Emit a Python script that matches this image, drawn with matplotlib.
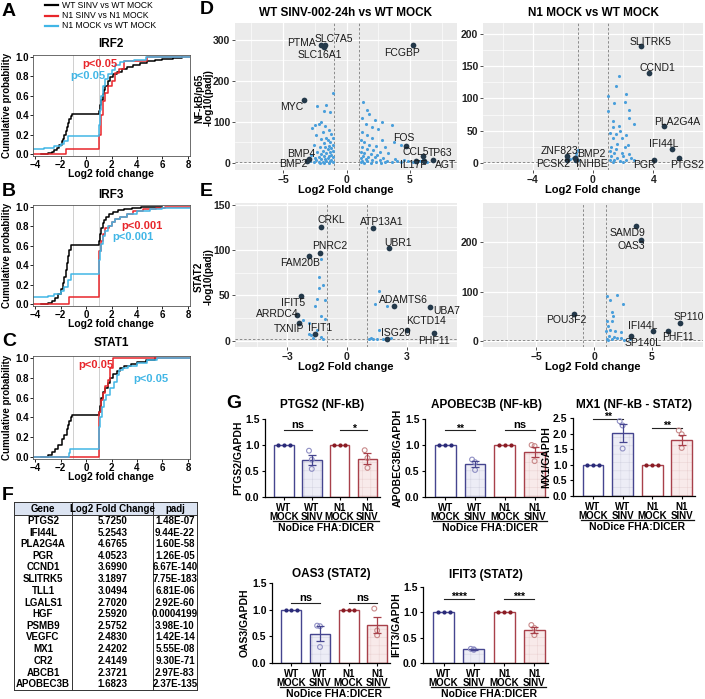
import matplotlib
matplotlib.use('Agg')
import matplotlib.pyplot as plt
from matplotlib.ticker import AutoMinorLocator
from matplotlib.lines import Line2D
import matplotlib.transforms as mtrans

W, H = 705, 699
plt.rcParams['font.family'] = ['Liberation Sans', 'DejaVu Sans']
plt.rcParams['hatch.linewidth'] = 0.4

# ---------------- DATA ----------------
# Panel A-C cumulative distributions (step breakpoints)
irf2_black_x = [-3.5,-3.0,-2.7,-2.5,-2.3,-2.1,-1.9,-1.8,-1.7,-1.6,-1.5,-1.4,-1.3,-1.2,-1.1,1.0,1.1,1.2,1.3,1.4,1.5,1.7,1.9,2.1,2.4,2.8,3.2,3.7,4.2,4.8,5.4,6.0,6.8,7.5]
irf2_black_y = [0,0.01,0.02,0.04,0.06,0.09,0.13,0.16,0.2,0.24,0.28,0.32,0.36,0.39,0.41,0.44,0.5,0.56,0.62,0.66,0.7,0.75,0.79,0.82,0.85,0.88,0.9,0.92,0.94,0.96,0.97,0.98,0.99,1.0]
irf2_red_x = [-4.2,-1.6,1.0,1.15,1.3,1.5,1.7,2.0,2.3,2.6,3.0,4.8,8.2]
irf2_red_y = [0,0.05,0.2,0.4,0.55,0.63,0.7,0.75,0.83,0.88,0.96,1.0,1.0]
irf2_cyan_x = [-4.2,-3.3,-2.5,-2.0,-1.7,-1.4,1.0,1.1,1.2,1.35,1.5,1.7,2.0,2.3,2.7,3.0,3.8,4.7,8.2]
irf2_cyan_y = [0.05,0.06,0.08,0.1,0.13,0.19,0.3,0.45,0.6,0.7,0.77,0.82,0.87,0.92,0.95,0.96,0.97,1.0,1.0]

irf3_black_x = [-3.5,-3.0,-2.7,-2.4,-2.2,-2.0,-1.8,-1.7,-1.6,-1.5,-1.4,-1.3,-1.2,1.0,1.1,1.2,1.3,1.4,1.6,1.8,2.1,2.5,3.0,3.6,4.3,5.0,6.0]
irf3_black_y = [0,0.01,0.03,0.06,0.1,0.15,0.22,0.28,0.35,0.42,0.5,0.56,0.61,0.65,0.72,0.78,0.83,0.87,0.9,0.93,0.95,0.97,0.98,0.99,0.995,1.0,1.0]
irf3_red_x = [-4.2,-1.3,1.0,1.05,1.2,1.35,1.5,1.8,2.0,2.3,2.7,3.2,3.7,4.5,5.5,6.2,8.2]
irf3_red_y = [0,0.07,0.3,0.55,0.65,0.72,0.78,0.8,0.85,0.88,0.9,0.93,0.96,0.98,0.99,1.0,1.0]
irf3_cyan_x = [-4.2,-3.0,-2.5,-2.0,-1.7,-1.4,-1.2,1.0,1.1,1.2,1.35,1.5,1.7,2.0,2.3,2.7,3.2,4.0,5.0,6.0,8.2]
irf3_cyan_y = [0.07,0.08,0.1,0.13,0.18,0.25,0.31,0.45,0.55,0.62,0.7,0.75,0.8,0.85,0.88,0.9,0.93,0.96,0.98,0.99,1.0]

stat1_black_x = [-3.5,-3.0,-2.7,-2.4,-2.2,-1.9,-1.7,-1.5,-1.4,-1.3,-1.2,-1.1,1.0,1.1,1.2,1.35,1.5,1.7,1.9,2.1,2.4,2.7,3.0,3.5,4.0,4.7,5.4]
stat1_black_y = [0,0.02,0.05,0.08,0.12,0.18,0.22,0.28,0.32,0.36,0.4,0.42,0.45,0.52,0.6,0.66,0.7,0.75,0.8,0.84,0.87,0.9,0.92,0.94,0.96,0.98,1.0]
stat1_red_x = [-4.2,1.0,1.05,1.2,1.35,1.5,1.7,1.9,2.1,8.2]
stat1_red_y = [0,0.3,0.45,0.58,0.65,0.72,0.78,0.9,1.0,1.0]
stat1_cyan_x = [-4.2,-1.35,-1.25,1.0,1.1,1.25,1.4,1.6,1.9,2.2,2.4,2.6,2.9,3.3,4.0,4.8,5.6,8.2]
stat1_cyan_y = [0,0.04,0.08,0.3,0.4,0.5,0.58,0.63,0.7,0.76,0.83,0.88,0.9,0.92,0.95,0.98,1.0,1.0]

# Panel D/E volcano: background (blue) points
dL_bx = [-1.1,-1.6,-1.8,-2.3,-1.3,-2.0,-2.5,-2.2,-1.7,-2.7,-1.4,-1.9,-1.2,-2.4,-1.6,-1.1,-2.0,-1.5,-1.3,-1.8,-2.6,-1.1,-1.4,-2.1,-1.7,-1.2,-1.5,-1.9,-2.3,-1.1,-1.3,-1.6,-2.0,-2.8,-1.2,-1.4,-1.8,-2.2,-2.5,-1.1,-1.5,-1.7,-2.0,-2.4,-2.9,-1.2,-1.3,-1.6,-1.9,-2.2,-2.6,-3.1,-1.1,-1.4,-1.8,-2.1,
         1.3,1.6,1.2,1.8,2.2,2.8,3.6,1.5,2.0,2.5,1.2,1.6,2.0,2.8,3.7,4.3,1.1,1.4,1.8,2.3,3.0,1.2,1.6,2.1,2.6,3.3,1.1,1.4,1.9,2.4,1.3,1.7,2.2,2.9,3.8,4.5,1.1,1.5,2.0,2.6,3.2,4.0,4.8,5.2,5.8,6.3,1.2,1.6,2.3,3.0,3.6,4.3,1.4,1.9,2.7,1.1,5.5,6.0]
dL_by = [170,142,127,138,125,100,92,95,90,85,80,75,70,68,62,60,58,55,50,48,45,45,42,40,38,36,33,30,28,30,26,24,22,20,20,18,16,15,12,14,12,10,9,8,6,8,5,4,3,3,2,2,2,1,1,1,
         148,130,110,120,105,100,92,95,88,83,75,68,62,55,52,45,55,50,45,42,40,38,35,32,28,25,28,25,22,20,18,15,14,12,10,8,12,10,8,7,6,5,4,3,4,3,5,4,3,2,2,2,1,1,1,3,8,10]
dR_bx = [1.7,1.5,1.0,2.2,1.4,2.1,1.0,2.4,1.3,1.7,2.4,2.7,1.3,1.8,1.1,1.5,2.2,1.3,1.9,1.6,2.3,1.2,1.5,2.1,1.1,1.4,1.9,2.4,1.2,1.6,2.0,2.5,1.1,1.4,1.8,2.2,2.7,1.3,2.0,
         -1.0,-1.1,-1.3,-1.5,-1.0,-1.2,-1.1]
dR_by = [135,120,104,107,93,95,80,82,65,58,70,60,55,50,47,45,43,38,38,30,28,25,22,24,18,15,15,14,10,8,10,8,5,4,3,5,4,2,2,
         20,15,8,6,5,3,10]
eL_bx = [-1.3,-1.4,-1.2,-1.4,-1.1,-1.5,-1.6,-1.3,-1.1,-1.9,-2.2,-1.5,-1.8,-1.3,-1.2,-1.7,-1.9,
         1.6,1.4,2.0,1.6,1.1,1.3,1.5,1.8,2.2,1.2]
eL_by = [90,70,62,58,45,46,38,27,24,20,23,12,6,4,2,3,7,
         55,40,38,12,2,2,2,2,3,3]
eR_bx = [1.1,2.0,1.4,2.5,1.5,1.6,1.5,1.1,1.2,1.8,1.0,1.4,2.3,1.3,1.7,2.0,2.3,1.1,1.5,2.6,3.1,1.2]
eR_by = [92,93,83,75,58,50,40,40,30,20,20,22,18,10,8,6,7,5,4,3,5,2]

# Volcano labelled genes
dL_genes = ["PTMA","SLC7A5","SLC16A1","FCGBP","MYC","BMP4","BMP2","FOS","CCL5","TP63","IL17F","AGT"]
dL_gx = [-2.0,-1.7,-1.8,5.2,-3.4,-3.0,-3.1,4.7,6.0,6.8,5.5,6.1]
dL_gy = [288,287,283,288,154,10,6,42,18,8,4,4]
dR_genes = ["SLITRK5","CCND1","PLA2G4A","IFI44L","PTGS2","PGR","ZNF823","PCSK2","BMP2","INHBE"]
dR_gx = [3.19,3.70,4.68,5.25,5.72,4.05,-1.7,-1.75,-1.2,-1.1]
dR_gy = [182,139,57,21,7,5,10,4,8,4]
eL_genes = ["CRKL","ATP13A1","PNRC2","UBR1","FAM20B","IFIT5","ARRDC4","TXNIP","IFIT1","ADAMTS6","UBA7","KCTD14","ISG20","PHF11"]
eL_gx = [-1.29,1.28,-1.34,2.08,-1.9,-2.28,-2.48,-2.38,-1.58,2.33,4.16,3.0,1.98,4.36]
eL_gy = [126,124,97,102,93,49,28,20,7,38,37,12,2,8]
eR_genes = ["SAMD9","OAS3","POU3F2","SP110","IFI44L","PHF11","SP140L"]
eR_gx = [3.63,4.06,-1.7,7.4,5.1,6.4,3.2]
eR_gy = [232,205,55,36,20,20,10]

# Table F
genes_F = ["PTGS2","IFI44L","PLA2G4A","PGR","CCND1","SLITRK5","TLL1","LGALS1","HGF","PSMB9","VEGFC","MX1","CR2","ABCB1","APOBEC3B"]
lfc_F = ["5.7250","5.2543","4.6765","4.0523","3.6990","3.1897","3.0494","2.7020","2.5920","2.5752","2.4830","2.4202","2.4149","2.3721","1.6823"]
padj_F = ["1.48E-07","9.44E-22","1.60E-58","1.26E-05","6.67E-140","7.75E-183","6.81E-06","2.92E-60","0.0004199","3.98E-10","1.42E-14","5.55E-08","9.30E-71","2.97E-83","2.37E-135"]

# Panel G bar charts
conds_G = ["WT\nMOCK", "WT\nSINV", "N1\nMOCK", "N1\nSINV"]
titles_G = ["PTGS2 (NF-kB)", "APOBEC3B (NF-kB)", "MX1 (NF-kB - STAT2)", "OAS3 (STAT2)", "IFIT3 (STAT2)"]
ylab_G = ["PTGS2/GAPDH", "APOBEC3B/GAPDH", "MX1/GAPDH", "OAS3/GAPDH", "IFIT3/GAPDH"]
means_G = [[1.0,0.71,1.0,0.74],[1.0,0.64,1.0,0.86],[1.0,2.02,1.0,1.78],[1.0,0.55,1.0,0.72],[1.0,0.27,1.0,0.66]]
sem_G = [[0,0.10,0,0.10],[0,0.06,0,0.10],[0,0.28,0,0.16],[0,0.14,0,0.15],[0,0.01,0,0.06]]
wt_sinv_pts = [[0.89,0.72,0.54],[0.72,0.67,0.52],[2.40,2.26,1.52],[0.70,0.69,0.30],[0.28,0.27,0.26]]
n1_sinv_pts = [[0.90,0.75,0.56],[1.00,0.98,0.69],[2.10,1.98,1.54],[1.02,0.61,0.52],[0.75,0.69,0.55]]
sig_G = [["ns","*"],["**","ns"],["**","**"],["ns","ns"],["****","***"]]

# ---------------- FIGURE ----------------
fig = plt.figure(figsize=(W/100, H/100), dpi=100)

def axpx(l, t, r, b):
    return fig.add_axes([l/W, 1-b/H, (r-l)/W, (b-t)/H])

def ftext(x, y, s, **kw):
    return fig.text(x/W, 1-y/H, s, **kw)

BLK, RED, CYA = '#000000', '#E8262B', '#41B6E6'

# Panel letters
for lt, (lx, ly) in zip("ABCDEFG", [(2,11),(2,192),(2,342),(200,9),(200,191),(2,495),(226,404)]):
    ftext(lx, ly, lt, fontsize=14, fontweight='bold', va='center', ha='left')

# Legend of A
for i, (lab, c) in enumerate(zip(["WT SINV vs WT MOCK","N1 SINV vs N1 MOCK","N1 MOCK vs WT MOCK"], [BLK, RED, CYA])):
    yy = 5 + i*10.5
    fig.add_artist(Line2D([45/W, 58/W], [1-yy/H, 1-yy/H], color=c, lw=1.6))
    ftext(62, yy, lab, fontsize=6.2, va='center')

def cdf_panel(top, bot, title, title_y, curves, ptexts, xl_y):
    ax = axpx(33, top, 190, bot)
    for xs, ys, c in curves:
        ax.step(xs, ys, where='post', color=c, lw=1.1)
    ax.axvline(-1, color='#C8C8C8', lw=0.6, zorder=0)
    ax.axvline(1, color='#C8C8C8', lw=0.6, zorder=0)
    ax.set_xlim(-4.16, 8.16)
    ax.set_ylim(-0.02, 1.02)
    ax.set_xticks([-4,-2,0,2,4,6,8])
    ax.set_yticks([0,0.2,0.4,0.6,0.8,1.0])
    ax.set_yticklabels(['0.0','0.2','0.4','0.6','0.8','1.0'])
    ax.tick_params(labelsize=7, length=2, width=0.6, pad=1)
    for lb in ax.get_xticklabels() + ax.get_yticklabels():
        lb.set_fontweight('bold')
    for sp in ax.spines.values():
        sp.set_linewidth(0.6); sp.set_color('#555555')
    ax.set_ylabel('Cumulative probability', fontsize=7, fontweight='bold', labelpad=2)
    for (tx, ty, s, c) in ptexts:
        ax.text(tx, ty, s, color=c, fontsize=8, fontweight='bold', ha='left', va='center')
    ftext(111, title_y, title, fontsize=8.5, fontweight='bold', ha='center', va='center')
    ftext(111, xl_y, 'Log2 fold change', fontsize=7.5, fontweight='bold', ha='center', va='center')
    return ax

cdf_panel(55, 156, 'IRF2', 44,
          [(irf2_black_x, irf2_black_y, BLK), (irf2_red_x, irf2_red_y, RED), (irf2_cyan_x, irf2_cyan_y, CYA)],
          [(-0.3, 0.93, 'p<0.05', RED), (-1.25, 0.8, 'p<0.05', CYA)], 174)
cdf_panel(205, 306, 'IRF3', 195,
          [(irf3_black_x, irf3_black_y, BLK), (irf3_red_x, irf3_red_y, RED), (irf3_cyan_x, irf3_cyan_y, CYA)],
          [(2.8, 0.8, 'p<0.001', RED), (2.1, 0.69, 'p<0.001', CYA)], 324)
cdf_panel(356, 459, 'STAT1', 343,
          [(stat1_black_x, stat1_black_y, BLK), (stat1_red_x, stat1_red_y, RED), (stat1_cyan_x, stat1_cyan_y, CYA)],
          [(-0.6, 0.93, 'p<0.05', RED), (3.7, 0.79, 'p<0.05', CYA)], 477)

# ---------------- Volcano panels ----------------
label_offsets = {
    'dL': {"PTMA":(-2.4,292,'right'),"SLC7A5":(-1.0,303,'center'),"SLC16A1":(-2.1,263,'center'),"FCGBP":(4.35,268,'center'),
           "MYC":(-4.3,137,'center'),"BMP4":(-3.6,22,'center'),"BMP2":(-4.2,-3,'center'),"FOS":(4.5,60,'center'),
           "CCL5":(5.45,27,'center'),"TP63":(7.4,24,'center'),"IL17F":(5.25,-5,'center'),"AGT":(7.8,-5,'center')},
    'dR': {"SLITRK5":(3.85,188,'center'),"CCND1":(4.3,147,'center'),"PLA2G4A":(5.6,64,'center'),"IFI44L":(4.7,30,'center'),
           "PTGS2":(6.25,-3,'center'),"PGR":(3.4,-3,'center'),"ZNF823":(-2.2,18,'center'),"PCSK2":(-2.65,-2,'center'),
           "BMP2":(-0.1,14,'center'),"INHBE":(-0.1,-2,'center')},
    'eL': {"CRKL":(-0.8,133,'center'),"ATP13A1":(1.75,131,'center'),"PNRC2":(-0.85,104,'center'),"UBR1":(2.55,108,'center'),
           "FAM20B":(-2.35,86,'center'),"IFIT5":(-2.7,42,'center'),"ARRDC4":(-3.5,29,'center'),"TXNIP":(-2.9,13,'center'),
           "IFIT1":(-1.35,14,'center'),"ADAMTS6":(2.8,45,'center'),"UBA7":(4.3,33,'left'),"KCTD14":(3.95,22,'center'),
           "ISG20":(2.45,9,'center'),"PHF11":(4.35,0,'center')},
    'eR': {"SAMD9":(2.9,218,'center'),"OAS3":(3.2,193,'center'),"POU3F2":(-2.4,42,'center'),"SP110":(8.2,48,'center'),
           "IFI44L":(4.2,30,'center'),"PHF11":(7.2,8,'center'),"SP140L":(4.25,-4,'center')},
}

def volcano(box, xlim, ylim, xticks, yticks, bx, by, gnames, gx, gy, key, title=None):
    ax = axpx(*box)
    ax.set_facecolor('#EBEBEB')
    ax.set_xlim(*xlim); ax.set_ylim(*ylim)
    ax.set_xticks(xticks); ax.set_yticks(yticks)
    ax.xaxis.set_minor_locator(AutoMinorLocator(2))
    ax.yaxis.set_minor_locator(AutoMinorLocator(2))
    ax.grid(True, which='major', color='white', lw=0.9)
    ax.grid(True, which='minor', color='white', lw=0.45)
    ax.set_axisbelow(True)
    for sp in ax.spines.values():
        sp.set_visible(False)
    ax.tick_params(which='major', length=2, width=0.6, color='#333333', labelsize=7.5, labelcolor='#222222', pad=1.5)
    ax.tick_params(which='minor', length=0)
    for lb in ax.get_xticklabels() + ax.get_yticklabels():
        lb.set_fontweight('bold')
    ax.axvline(-1, color='#8A8A8A', lw=0.7, ls=(0, (2.5, 2)), zorder=1)
    ax.axvline(1, color='#8A8A8A', lw=0.7, ls=(0, (2.5, 2)), zorder=1)
    ax.axhline(1.3, color='#8A8A8A', lw=0.7, ls=(0, (2.5, 2)), zorder=1)
    ax.scatter(bx, by, s=5, color='#4A9FDB', linewidths=0, zorder=2)
    ax.scatter(gx, gy, s=17, color='#24394A', linewidths=0, zorder=3)
    offs = label_offsets[key]
    for g, x0, y0 in zip(gnames, gx, gy):
        tx, ty, ha = offs[g]
        ax.text(tx, ty, g, fontsize=7.5, color='#1A1A1A', ha=ha, va='center', zorder=4)
    if title:
        ax.set_title(title, fontsize=8.5, fontweight='bold', pad=5)
    return ax

volcano((235, 23, 457, 170), (-8.8, 8.7), (-17, 341), [-5, 0, 5], [0, 100, 200, 300],
        dL_bx, dL_by, dL_genes, dL_gx, dL_gy, 'dL', 'WT SINV-002-24h vs WT MOCK')
volcano((483, 23, 703, 170), (-7.3, 7.3), (-11, 217), [-4, 0, 4], [0, 50, 100, 150, 200],
        dR_bx, dR_by, dR_genes, dR_gx, dR_gy, 'dR', 'N1 MOCK vs WT MOCK')
volcano((235, 203, 457, 347), (-5.6, 5.5), (-7, 152), [-3, 0, 3], [0, 50, 100, 150],
        eL_bx, eL_by, eL_genes, eL_gx, eL_gy, 'eL')
volcano((483, 203, 703, 347), (-9.6, 9.4), (-12, 279), [-5, 0, 5], [0, 100, 200],
        eR_bx, eR_by, eR_genes, eR_gx, eR_gy, 'eR')

for cx in (346, 593):
    ftext(cx, 190, 'Log2 Fold change', fontsize=8, fontweight='bold', ha='center', va='center')
    ftext(cx, 367, 'Log2 Fold change', fontsize=8, fontweight='bold', ha='center', va='center')
ftext(204, 98, 'NF-kB/p65\n-log10(padj)', fontsize=7.2, fontweight='bold', rotation=90,
      ha='center', va='center', multialignment='center', linespacing=0.95)
ftext(204, 277, 'STAT2\n-log10(padj)', fontsize=7.2, fontweight='bold', rotation=90,
      ha='center', va='center', multialignment='center', linespacing=0.95)

# ---------------- Table F ----------------
axt = axpx(13, 500, 198, 692)
axt.set_xlim(13, 198); axt.set_ylim(692, 500)
axt.axis('off')
cols = [14, 72, 153, 197]
top_t, hdr_b, bot_t = 502, 515, 690
rowh = (bot_t - hdr_b) / len(genes_F)
axt.add_patch(plt.Rectangle((cols[0], top_t), cols[-1]-cols[0], hdr_b-top_t, facecolor='#DCE4F2', edgecolor='none'))
lw_t = 0.7
axt.plot([cols[0], cols[-1]], [top_t, top_t], color='#333333', lw=lw_t)
axt.plot([cols[0], cols[-1]], [hdr_b, hdr_b], color='#333333', lw=lw_t)
axt.plot([cols[0], cols[-1]], [bot_t, bot_t], color='#333333', lw=lw_t)
for cx in cols:
    axt.plot([cx, cx], [top_t, bot_t], color='#333333', lw=lw_t)
hdrs = ["Gene", "Log2 Fold Change", "padj"]
for j, h in enumerate(hdrs):
    axt.text((cols[j]+cols[j+1])/2, (top_t+hdr_b)/2, h, fontsize=7, fontweight='bold', ha='center', va='center')
for i in range(len(genes_F)):
    yc = hdr_b + rowh*(i+0.5)
    for j, v in enumerate([genes_F[i], lfc_F[i], padj_F[i]]):
        axt.text((cols[j]+cols[j+1])/2, yc, v, fontsize=7, fontweight='bold', ha='center', va='center')

# ---------------- Panel G ----------------
WT_EDGE, N1_EDGE = '#45458F', '#A8404A'
WT_DOT, N1_DOT = '#2A2A78', '#8A1C24'
WT_OPEN, N1_OPEN = '#8F8FC4', '#C98A8A'
WT_FILL, N1_FILL = '#EDEDF6', '#F8EAEA'

boxes_G = [(265, 419, 380, 497), (425, 419, 548, 497), (573, 418, 695, 496),
           (272, 583, 390, 663), (423, 587, 548, 663)]
title_y_G = [405, 405, 405, 574, 575]
ylims_G = [1.5, 1.5, 2.5, 1.5, 1.5]
yticks_G = [[0, 0.5, 1.0, 1.5], [0, 0.5, 1.0, 1.5], [0, 0.5, 1.0, 1.5, 2.0, 2.5], [0, 0.5, 1.0, 1.5], [0, 0.5, 1.0, 1.5]]
sig_y_G = [[1.28, 1.28], [1.28, 1.28], [2.48, 2.18], [1.12, 1.12], [1.27, 1.27]]

for k in range(5):
    l, t, r, b = boxes_G[k]
    ax = axpx(l, t, r, b)
    ax.set_xlim(-0.68, 3.45)
    ax.set_ylim(0, ylims_G[k])
    edges = [WT_EDGE, WT_EDGE, N1_EDGE, N1_EDGE]
    fills = ['white', WT_FILL, 'white', N1_FILL]
    xs = [0, 1, 2, 3]
    for i in range(4):
        if i in (1, 3):
            ax.bar(xs[i], means_G[k][i], width=0.7, color=fills[i], edgecolor='#D6D6E4' if i == 1 else '#EBD3D3',
                   hatch='++', linewidth=0, zorder=1)
        else:
            ax.bar(xs[i], means_G[k][i], width=0.7, color='white', linewidth=0, zorder=1)
        ax.bar(xs[i], means_G[k][i], width=0.7, fill=False, edgecolor=edges[i], linewidth=1.0, zorder=2)
    for i, dc in ((0, WT_DOT), (2, N1_DOT)):
        ax.scatter([xs[i]-0.2, xs[i], xs[i]+0.2], [1.0, 1.0, 1.0], s=9, color=dc, zorder=4, linewidths=0)
    ax.scatter([0.9, 1.0, 1.0], wt_sinv_pts[k], s=12, facecolors='none', edgecolors=WT_OPEN, linewidths=0.8, zorder=4)
    ax.scatter([2.9, 3.0, 3.0], n1_sinv_pts[k], s=12, facecolors='none', edgecolors=N1_OPEN, linewidths=0.8, zorder=4)
    ax.errorbar([1], [means_G[k][1]], yerr=[sem_G[k][1]], color=WT_EDGE, capsize=3, lw=0.9, capthick=0.9, zorder=5)
    ax.errorbar([3], [means_G[k][3]], yerr=[sem_G[k][3]], color=N1_EDGE, capsize=3, lw=0.9, capthick=0.9, zorder=5)
    px_per_unit = (b - t) / ylims_G[k]
    for (x1, x2), s, sy in zip([(0, 1), (2, 3)], sig_G[k], sig_y_G[k]):
        ax.plot([x1, x2], [sy, sy], color='#222222', lw=0.8, clip_on=False)
        if s == 'ns':
            ax.text((x1+x2)/2, sy + 2.5/px_per_unit, s, ha='center', va='baseline', fontsize=8,
                    fontweight='bold', clip_on=False)
        else:
            ax.text((x1+x2)/2, sy - 1.0/px_per_unit, s, ha='center', va='baseline', fontsize=7.5,
                    fontweight='bold', clip_on=False)
    ax.spines['top'].set_visible(False)
    ax.spines['right'].set_visible(False)
    ax.spines['left'].set_linewidth(0.9)
    ax.spines['bottom'].set_linewidth(0.9)
    ax.set_yticks(yticks_G[k])
    ax.set_yticklabels(['%.1f' % v for v in yticks_G[k]])
    ax.set_xticks(xs)
    ax.set_xticklabels(conds_G, linespacing=0.95)
    ax.tick_params(axis='y', labelsize=7.5, length=2.5, width=0.8, pad=1.5)
    ax.tick_params(axis='x', labelsize=7, length=2.5, width=0.8, pad=1.5)
    for lb in ax.get_xticklabels() + ax.get_yticklabels():
        lb.set_fontweight('bold')
    ax.set_ylabel(ylab_G[k], fontsize=7.5, fontweight='bold', labelpad=1.5)
    ftext((l + r) / 2, title_y_G[k], titles_G[k], fontsize=8.5, fontweight='bold', ha='center', va='center')
    trans = mtrans.blended_transform_factory(ax.transData, ax.transAxes)
    yl = -(24)/(b - t)
    ax.plot([-0.4, 3.4], [yl, yl], color='#111111', lw=0.9, transform=trans, clip_on=False)
    ax.text(1.5, yl - 2/(b - t), 'NoDice FHA:DICER', transform=trans, ha='center', va='top',
            fontsize=7.5, fontweight='bold')

fig.savefig('out.png', dpi=100)
